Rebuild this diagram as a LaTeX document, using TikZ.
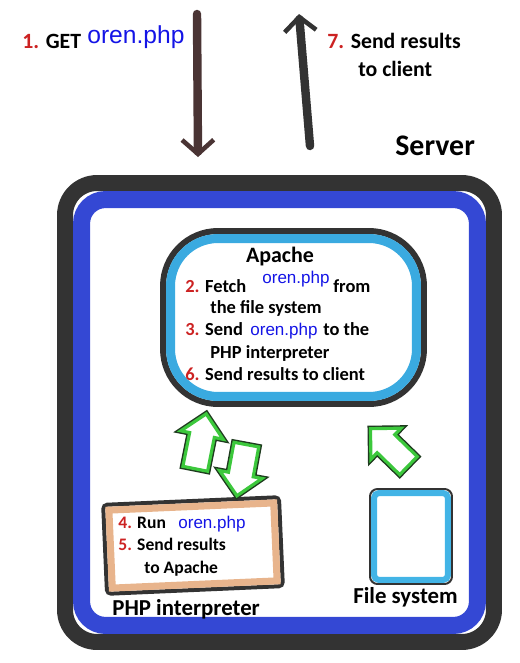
\documentclass[tikz,border=0pt]{standalone}
\usepackage{fontspec}
\setmainfont{Carlito}
\newfontfamily\webfont{Liberation Sans}
\usetikzlibrary{arrows.meta,shapes.arrows}
\definecolor{ink}{HTML}{333333}
\definecolor{inkbrown}{HTML}{4A3434}
\definecolor{stepred}{HTML}{CC2222}
\definecolor{fileblue}{HTML}{1414E6}
\definecolor{serverblue}{HTML}{3448D4}
\definecolor{apacheblue}{HTML}{3AAAE0}
\definecolor{phptan}{HTML}{E8B48C}
\definecolor{fsblue}{HTML}{42B4E6}
\definecolor{flowgreen}{HTML}{3CC83C}
\definecolor{flowedge}{HTML}{1E3A1E}
\newcommand{\stepno}[1]{\textcolor{stepred}{#1}}
\tikzstyle{steptext} = [anchor=base west,inner sep=0pt,font=\bfseries\fontsize{10.5}{13}\selectfont]
\tikzstyle{toptext} = [steptext,font=\bfseries\fontsize{12.4}{15}\selectfont]
\tikzstyle{phptext} = [steptext,font=\bfseries\fontsize{10}{12}\selectfont]
\tikzstyle{boxname} = [steptext,font=\bfseries\fontsize{13}{16}\selectfont]
\tikzstyle{filename} = [steptext,text=fileblue,font=\webfont\fontsize{9.7}{11}\selectfont]
\tikzstyle{bigfilename} = [filename,font=\webfont\fontsize{14}{16}\selectfont]
\tikzstyle{wire} = [line width=4.8pt,line cap=round,-{Straight Barb[length=8pt,width=18pt,line width=2.6pt]}]
\tikzstyle{flow} = [single arrow,draw=flowgreen,line width=1.8pt,fill=white,inner sep=0.22cm,
  preaction={draw=flowedge,line width=3.4pt},
  single arrow head extend=0.18cm,single arrow tip angle=90,minimum height=1.08cm]
\tikzstyle{rim} = [draw=ink,inner sep=0pt]

\begin{document}
\begin{tikzpicture}[x=0.02cm,y=-0.02cm]
    \useasboundingbox (0,0) rectangle (520,663);
    % server frame
    \node[rim,line width=0.32cm,rounded corners=0.64cm,minimum width=8.58cm,minimum height=9.18cm] (server) at (279.5,412.5) {};
    \node[draw=serverblue,line width=0.34cm,rounded corners=0.48cm,minimum width=7.92cm,minimum height=8.52cm] (serverband) at (server.center) {};
    \node[steptext,font=\bfseries\fontsize{17}{20}\selectfont] (servername) at (395,155) {Server};

    % client request and reply
    \coordinate (req top) at (197,14);
    \coordinate (req tip) at (198,157);
    \coordinate (res tail) at (310,146);
    \coordinate (res tip) at (299,14);
    \draw[wire,draw=inkbrown] (req top) -- (req tip);
    \draw[wire,draw=ink] (res tail) -- (res tip);
    \node[toptext] (get) at (22,48) {\stepno{1.} GET};
    \node[bigfilename] (getfile) at (87,43) {oren.php};
    \node[toptext] (reply) at (327,48) {\stepno{7.} Send results};
    \node[toptext] (reply2) at (358,76) {to client};

    % apache
    \node[rim,line width=0.12cm,rounded corners=1.1cm,minimum width=5.22cm,minimum height=3.46cm] (apache) at (293.5,317.5) {};
    \node[draw=apacheblue,line width=0.18cm,rounded corners=0.95cm,minimum width=4.92cm,minimum height=3.16cm] (apacheband) at (apache.center) {};
    \node[steptext,anchor=base,font=\bfseries\fontsize{12.5}{15}\selectfont] (apachename) at (280,262) {Apache};
    \node[steptext] (fetch) at (185,292) {\stepno{2.} Fetch};
    \node[filename] (fetchfile) at (262,283) {oren.php};
    \node[steptext] (fetchfrom) at (333,292) {from};
    \node[steptext] (fetch2) at (210,313) {the file system};
    \node[steptext] (send) at (185,335) {\stepno{3.} Send};
    \node[filename] (sendfile) at (250,335) {oren.php};
    \node[steptext] (sendto) at (323,335) {to the};
    \node[steptext] (send2) at (210,358) {PHP interpreter};
    \node[steptext] (reply3) at (185,380) {\stepno{6.} Send results to client};

    % php interpreter
    \node[rim,line width=0.08cm,rounded corners=0.08cm,minimum width=3.52cm,minimum height=1.78cm,rotate=2.5] (php) at (193,545.5) {};
    \node[draw=phptan,line width=0.14cm,minimum width=3.3cm,minimum height=1.56cm,rotate=2.5] (phpband) at (php.center) {};
    \node[phptext] (run) at (118,528) {\stepno{4.} Run};
    \node[filename] (runfile) at (178,528) {oren.php};
    \node[phptext] (back) at (118,550) {\stepno{5.} Send results};
    \node[phptext] (back2) at (144,573) {to Apache};
    \node[boxname] (phpname) at (112,615) {PHP interpreter};

    % file system
    \node[rim,line width=0.04cm,rounded corners=0.15cm,minimum width=1.64cm,minimum height=1.9cm] (fs) at (411,536.5) {};
    \node[draw=fsblue,line width=0.12cm,rounded corners=0.1cm,minimum width=1.48cm,minimum height=1.74cm] (fsband) at (fs.center) {};
    \node[boxname] (fsname) at (353,603) {File system};

    % data flow
    \node[flow,rotate=78.7,minimum height=1.12cm] (toapache) at (199.5,447.5) {};
    \node[flow,rotate=259.5,minimum height=1.04cm] (tophp) at (242.8,464) {};
    \node[flow,rotate=135.8,minimum height=1.06cm] (fromfs) at (394,451.5) {};
\end{tikzpicture}
\end{document}
